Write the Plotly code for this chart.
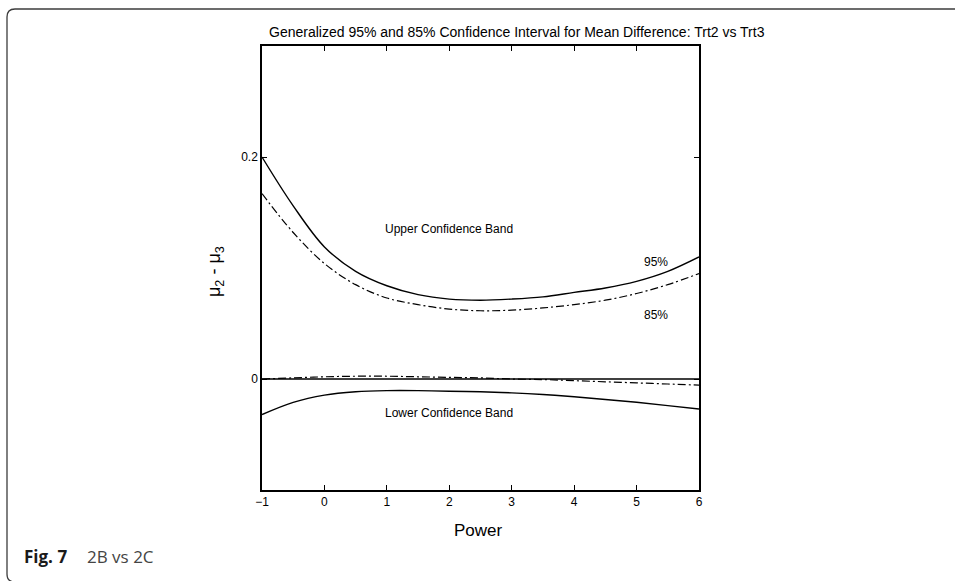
import plotly.graph_objects as go

# ---- data ----
power = [-1, -0.5, 0, 0.5, 1, 1.5, 2, 2.5, 3, 3.5, 4, 4.5, 5, 5.5, 6]
upper_95 = [0.200, 0.156, 0.119, 0.097, 0.084, 0.076, 0.072, 0.071, 0.072, 0.074, 0.078, 0.082, 0.088, 0.097, 0.110]
upper_85 = [0.167, 0.132, 0.104, 0.085, 0.073, 0.067, 0.063, 0.0615, 0.062, 0.064, 0.067, 0.071, 0.077, 0.085, 0.095]
lower_95 = [-0.032, -0.021, -0.0145, -0.0115, -0.0105, -0.0105, -0.011, -0.0115, -0.0125, -0.014, -0.016, -0.0185, -0.021, -0.024, -0.027]
lower_85 = [0.000, 0.001, 0.002, 0.0025, 0.0025, 0.002, 0.0015, 0.001, 0.0, -0.0005, -0.0015, -0.0025, -0.0035, -0.0045, -0.0055]
zero_x = [-1, 6]
zero_y = [0, 0]
x_ticks = [-1, 0, 1, 2, 3, 4, 5, 6]
y_ticks = [0, 0.2]

W, H = 955, 581
L, R, T, B = 262, 699, 46, 490
FONT = "Liberation Sans Narrow, Arial Narrow, Liberation Sans, Arial, sans-serif"
CAP_FONT = "Open Sans, Noto Sans, sans-serif"
DASHDOT = "8px,3px,2px,3px"

fig = go.Figure()
line = dict(color="black", width=1.4)
fig.add_trace(go.Scatter(x=zero_x, y=zero_y, mode="lines", line=line, hoverinfo="skip"))
fig.add_trace(go.Scatter(x=power, y=upper_95, mode="lines", line=dict(line, shape="spline"), hoverinfo="skip"))
fig.add_trace(go.Scatter(x=power, y=lower_95, mode="lines", line=dict(line, shape="spline"), hoverinfo="skip"))
fig.add_trace(go.Scatter(x=power, y=upper_85, mode="lines", line=dict(color="black", width=1.2, dash=DASHDOT, shape="spline"), hoverinfo="skip"))
fig.add_trace(go.Scatter(x=power, y=lower_85, mode="lines", line=dict(color="black", width=1.2, dash=DASHDOT, shape="spline"), hoverinfo="skip"))


def px2paper(x, y):
    return (x - L) / (R - L), (B - y) / (B - T)


# rounded outer frame
pts = [(1000, 582), (15, 582), (7, 582), (7, 574), (7, 17), (7, 9), (15, 9), (1000, 9)]
p = [px2paper(*q) for q in pts]
path = (f"M {p[0][0]},{p[0][1]} L {p[1][0]},{p[1][1]} Q {p[2][0]},{p[2][1]} {p[3][0]},{p[3][1]} "
        f"L {p[4][0]},{p[4][1]} Q {p[5][0]},{p[5][1]} {p[6][0]},{p[6][1]} L {p[7][0]},{p[7][1]}")
fig.add_shape(type="path", path=path, xref="paper", yref="paper", line=dict(color="#3c3c3c", width=1.3))

ann_font = dict(family=FONT, size=12, color="black")
annotations = [
    dict(x=2.0, y=0.135, xref="x", yref="y", text="Upper Confidence Band", showarrow=False, font=ann_font),
    dict(x=2.0, y=-0.031, xref="x", yref="y", text="Lower Confidence Band", showarrow=False, font=ann_font),
    dict(x=5.31, y=0.105, xref="x", yref="y", text="95%", showarrow=False, font=ann_font),
    dict(x=5.31, y=0.058, xref="x", yref="y", text="85%", showarrow=False, font=ann_font),
]


def paper_text(px, py, text, font, **kw):
    x, y = px2paper(px, py)
    d = dict(x=x, y=y, xref="paper", yref="paper", showarrow=False, text=text, font=font,
             xanchor="center", yanchor="middle")
    d.update(kw)
    return d


annotations.append(paper_text(517, 32, "Generalized 95% and 85% Confidence Interval for Mean Difference: Trt2 vs Trt3",
                              dict(family=FONT, size=14, color="black")))
annotations.append(paper_text(478, 530, "Power", dict(family=FONT, size=17, color="black")))
annotations.append(paper_text(215, 272, "μ<sub>2</sub> - μ<sub>3</sub>", dict(family=FONT, size=18, color="black"),
                              textangle=-90))
annotations.append(paper_text(22, 556, "<b>Fig. 7</b>", dict(family=CAP_FONT, size=17, color="#1a1a1a"),
                              xanchor="left"))
annotations.append(paper_text(85, 556, "2B vs 2C", dict(family=CAP_FONT, size=17, color="#444444"),
                              xanchor="left"))

fig.update_layout(
    width=W, height=H,
    margin=dict(l=L, r=W - R, t=T, b=H - B, pad=0),
    paper_bgcolor="white", plot_bgcolor="white",
    showlegend=False,
    annotations=annotations,
    font=dict(family=FONT, size=12, color="black"),
)
axis_common = dict(showline=True, linecolor="black", linewidth=1.5, mirror="ticks",
                   ticks="inside", ticklen=5, tickwidth=1.3, tickcolor="black",
                   showgrid=False, zeroline=False,
                   tickfont=dict(family=FONT, size=12, color="black"))
fig.update_xaxes(range=[-1, 6], tickvals=x_ticks, **axis_common)
fig.update_yaxes(range=[-0.1, 0.3], tickvals=y_ticks, **axis_common)

fig.write_html("out.html")
